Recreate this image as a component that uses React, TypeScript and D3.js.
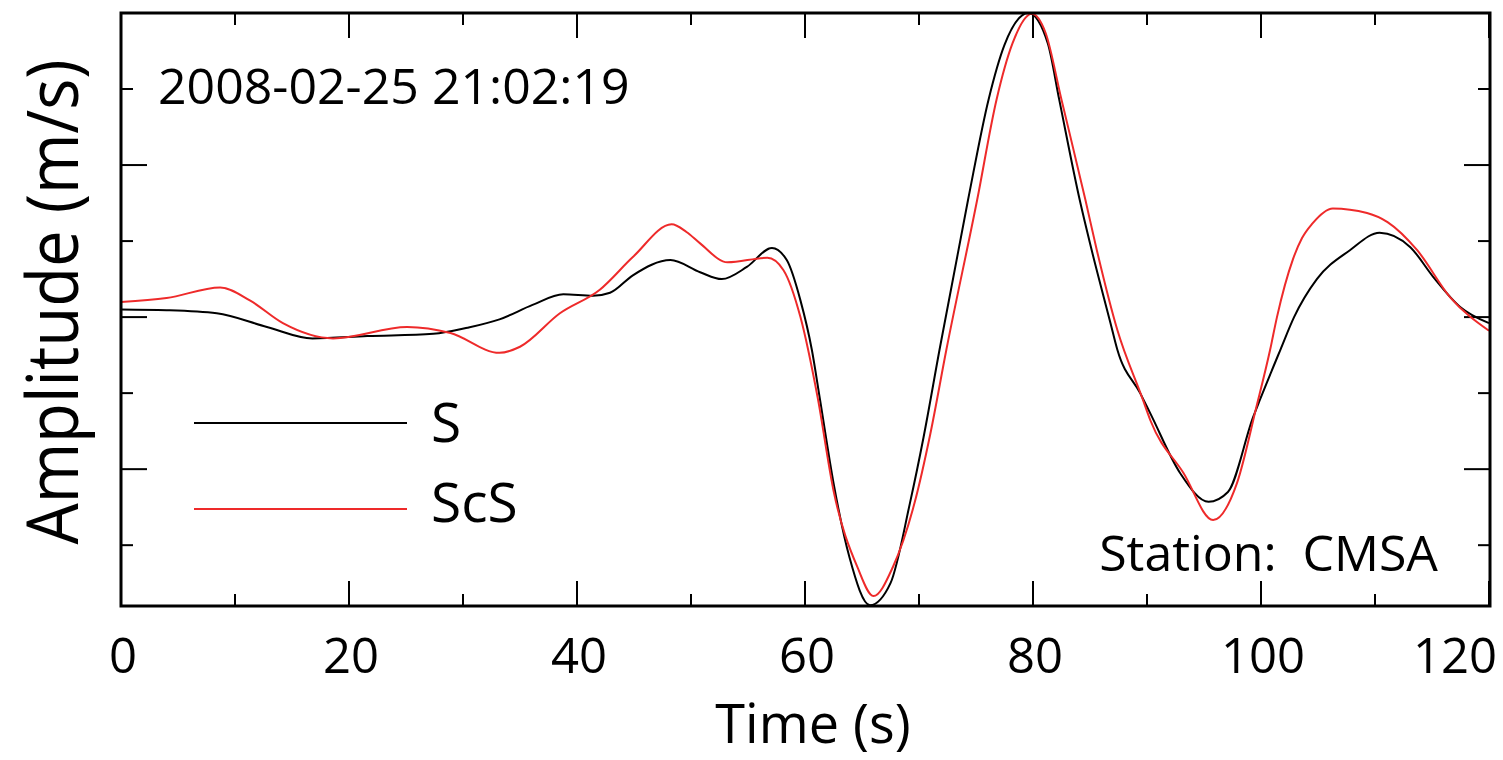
import React, { useRef, useEffect } from 'react';
import * as d3 from 'd3';

// S phase (black), time in s, amplitude in tick units
const sTime = [0, 4, 8.4, 12.8, 16.8, 21.6, 27.4, 30.4, 33.2, 36.1, 38.8, 41.4, 42.9, 44.9, 48.2, 50.8, 52.7, 54.9, 57.1, 58.4, 59.6, 60.6, 61.3, 62.5, 63.9, 65.7, 67.5, 69.2, 70.4, 71.8, 74.3, 76.1, 77.5, 79.6, 81.3, 82.3, 84.1, 85.0, 86.8, 87.4, 89.4, 90.3, 92.9, 95.4, 97.1, 99.3, 99.9, 101.7, 102.9, 104.9, 107.8, 110.4, 113.1, 115.1, 117.5, 120];
const sAmp = [0.1, 0.09, 0.05, -0.13, -0.28, -0.25, -0.22, -0.14, -0.03, 0.16, 0.3, 0.28, 0.32, 0.55, 0.75, 0.59, 0.5, 0.66, 0.91, 0.75, 0.22, -0.43, -1.07, -2.18, -3.16, -3.79, -3.5, -2.45, -1.58, -0.43, 1.54, 2.86, 3.58, 4.0, 3.6, 2.86, 1.54, 0.97, -0.08, -0.43, -1.0, -1.27, -2.05, -2.43, -2.3, -1.32, -1.09, -0.43, 0.0, 0.5, 0.88, 1.11, 0.92, 0.53, 0.13, -0.08];

// ScS phase (red)
const scsTime = [0, 4, 8.7, 11.3, 14.2, 18.6, 25.1, 28.9, 33.2, 35.0, 38.5, 42.0, 44.9, 48.3, 49.6, 50.8, 53.2, 56.7, 58.1, 59.6, 61.1, 62.5, 64.6, 66.0, 67.7, 69.6, 71.0, 72.4, 75.1, 76.8, 78.2, 79.9, 81.1, 82.5, 84.6, 85.6, 87.4, 89.6, 90.3, 93.2, 95.8, 97.9, 99.6, 100.8, 101.4, 102.8, 103.6, 104.5, 106.3, 109.3, 111.1, 113.7, 116.6, 120];
const scsAmp = [0.2, 0.25, 0.39, 0.22, -0.08, -0.28, -0.13, -0.21, -0.47, -0.39, 0.05, 0.36, 0.79, 1.22, 1.12, 0.97, 0.72, 0.78, 0.62, 0.0, -1.05, -2.28, -3.29, -3.67, -3.29, -2.45, -1.53, -0.43, 1.54, 2.86, 3.6, 3.99, 3.74, 2.86, 1.54, 0.88, -0.17, -1.07, -1.36, -2.05, -2.67, -2.18, -1.18, -0.43, 0.0, 0.76, 1.04, 1.23, 1.43, 1.37, 1.25, 0.88, 0.26, -0.18];

const xMajorTicks = [0, 20, 40, 60, 80, 100, 120];
const xMinorTicks = [10, 30, 50, 70, 90, 110];
const yMajorTicks = [-2, 0, 2];
const yMinorTicks = [-3, -1, 1, 3];

const legendNames = ['S', 'ScS'];
const colors = ['#000000', '#ee2a2a'];

const FONT = '"Open Sans", "Noto Sans", sans-serif';

const App = () => {
  const svgRef = useRef<SVGSVGElement>(null);

  useEffect(() => {
    const svg = d3.select(svgRef.current);
    const width = 1503;
    const height = 760;
    const left = 121, right = 1490, top = 13, bottom = 606;

    svg.attr('width', width).attr('height', height);
    svg.selectAll('*').remove();

    const x = d3.scaleLinear().domain([0, 120]).range([left, right - 1]);
    const y = d3.scaleLinear().domain([-3.8, 4.0]).range([bottom, top]);

    svg.append('defs').append('clipPath').attr('id', 'plotclip')
      .append('rect')
      .attr('x', left).attr('y', top - 1)
      .attr('width', right - left).attr('height', bottom - top + 2);

    // ticks on all four sides, pointing inward
    const tickG = svg.append('g').attr('stroke', '#000').attr('stroke-width', 2);
    const xTicks = (vals: number[], len: number) => {
      vals.forEach(v => {
        tickG.append('line').attr('x1', x(v)).attr('x2', x(v)).attr('y1', bottom).attr('y2', bottom - len);
        tickG.append('line').attr('x1', x(v)).attr('x2', x(v)).attr('y1', top).attr('y2', top + len);
      });
    };
    const yTicks = (vals: number[], len: number) => {
      vals.forEach(v => {
        tickG.append('line').attr('x1', left).attr('x2', left + len).attr('y1', y(v)).attr('y2', y(v));
        tickG.append('line').attr('x1', right).attr('x2', right - len).attr('y1', y(v)).attr('y2', y(v));
      });
    };
    xTicks(xMajorTicks, 25);
    xTicks(xMinorTicks, 12);
    yTicks(yMajorTicks, 26);
    yTicks(yMinorTicks, 12);

    const series = [
      { t: sTime, a: sAmp },
      { t: scsTime, a: scsAmp },
    ];
    series.forEach((s, i) => {
      const line = d3.line<number>()
        .x(d => x(d))
        .y((d, j) => y(s.a[j]))
        .curve(d3.curveMonotoneX);
      svg.append('path')
        .datum(s.t)
        .attr('clip-path', 'url(#plotclip)')
        .attr('fill', 'none')
        .attr('stroke', colors[i])
        .attr('stroke-width', 2)
        .attr('d', line);
    });

    // frame
    svg.append('rect')
      .attr('x', left).attr('y', top)
      .attr('width', right - left).attr('height', bottom - top)
      .attr('fill', 'none').attr('stroke', '#000').attr('stroke-width', 3);

    // x tick labels
    xMajorTicks.forEach((v, i) => {
      const last = i === xMajorTicks.length - 1;
      svg.append('text')
        .attr('x', last ? 1497 : x(v) + 2)
        .attr('y', 673)
        .attr('text-anchor', last ? 'end' : 'middle')
        .style('font-family', FONT)
        .style('font-size', '49px')
        .text(v);
    });

    svg.append('text')
      .attr('x', 813).attr('y', 743)
      .attr('text-anchor', 'middle')
      .style('font-family', FONT)
      .style('font-size', '54px')
      .text('Time (s)');

    svg.append('text')
      .attr('transform', 'translate(78,302) rotate(-90)')
      .attr('text-anchor', 'middle')
      .attr('textLength', 485)
      .attr('lengthAdjust', 'spacingAndGlyphs')
      .style('font-family', FONT)
      .style('font-size', '72px')
      .text('Amplitude (m/s)');

    svg.append('text')
      .attr('x', 158).attr('y', 104)
      .style('font-family', FONT)
      .style('font-size', '50px')
      .text('2008-02-25 21:02:19');

    svg.append('text')
      .attr('x', 1438).attr('y', 571)
      .attr('text-anchor', 'end')
      .style('font-family', FONT)
      .style('font-size', '50px')
      .style('white-space', 'pre')
      .text('Station:  CMSA');

    // legend
    const legendLineY = [423, 509];
    const legendTextY = [442, 522];
    legendNames.forEach((name, i) => {
      svg.append('line')
        .attr('x1', 194).attr('x2', 407)
        .attr('y1', legendLineY[i]).attr('y2', legendLineY[i])
        .attr('stroke', colors[i]).attr('stroke-width', 2);
      svg.append('text')
        .attr('x', 431).attr('y', legendTextY[i])
        .style('font-family', FONT)
        .style('font-size', '55px')
        .text(name);
    });
  }, []);

  return (
    <div style={{ position: 'absolute', left: 0, top: 0 }}>
      <svg ref={svgRef} style={{ display: 'block', background: '#fff' }}></svg>
    </div>
  );
};

export default App;
